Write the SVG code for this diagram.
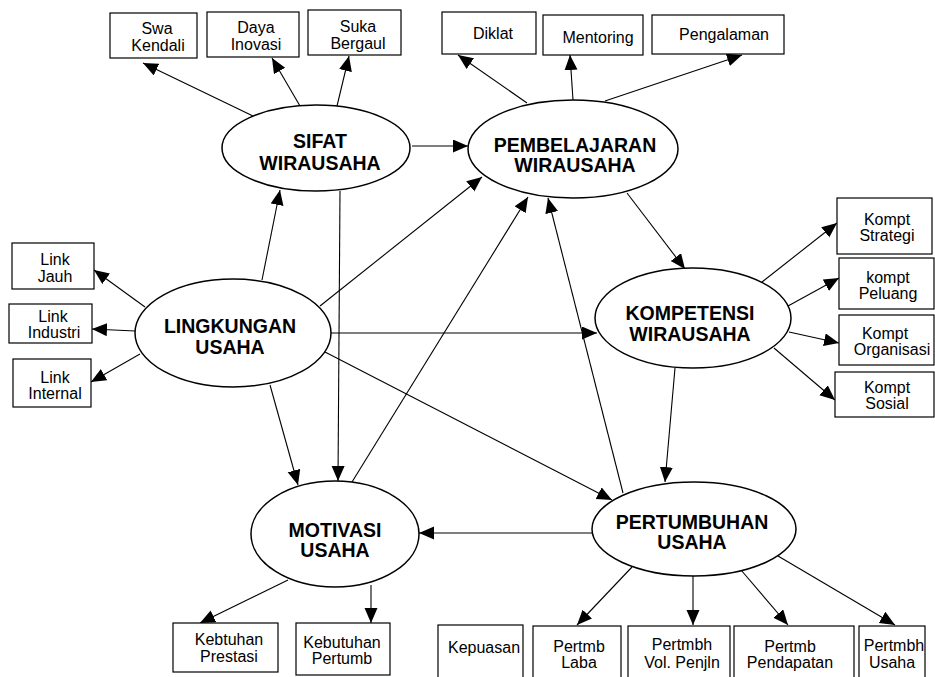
<svg xmlns="http://www.w3.org/2000/svg" width="935" height="677" viewBox="0 0 935 677">
  <defs>
    <marker id="arrow" markerUnits="userSpaceOnUse" markerWidth="16" markerHeight="14" refX="15" refY="6.5" orient="auto">
      <path d="M0,0 L15,6.5 L0,13 z" fill="#000"/>
    </marker>
    <style>
      .ell { fill: #fff; stroke: #000; stroke-width: 1.5; }
      .box { fill: #fff; stroke: #000; stroke-width: 1.2; }
      .big { font-family: "Liberation Sans", Arial, sans-serif; font-weight: bold; font-size: 19.5px; text-anchor: middle; fill: #000; }
      .sm { font-family: "Liberation Sans", Arial, sans-serif; font-size: 16px; text-anchor: middle; fill: #000; }
      .conn line { stroke: #000; stroke-width: 1.1; marker-end: url(#arrow); }
    </style>
  </defs>
  <rect width="935" height="677" fill="#fff"/>

  <!-- connectors -->
  <g id="connectors" class="conn">
    <!-- SIFAT WIRAUSAHA to its indicators -->
    <line x1="253" y1="116" x2="143" y2="63"/>
    <line x1="300" y1="106" x2="272" y2="58"/>
    <line x1="337" y1="106" x2="349" y2="56"/>
    <!-- PEMBELAJARAN WIRAUSAHA to its indicators -->
    <line x1="527" y1="103" x2="458" y2="55"/>
    <line x1="573" y1="100" x2="570" y2="55"/>
    <line x1="605" y1="101" x2="742" y2="55"/>
    <!-- LINGKUNGAN USAHA to its indicators -->
    <line x1="145" y1="307" x2="94" y2="270"/>
    <line x1="135" y1="331" x2="92" y2="329"/>
    <line x1="140" y1="354" x2="91" y2="382"/>
    <!-- KOMPETENSI WIRAUSAHA to its indicators -->
    <line x1="762" y1="282" x2="837" y2="223"/>
    <line x1="788" y1="306" x2="839" y2="278"/>
    <line x1="789" y1="332" x2="839" y2="343"/>
    <line x1="774" y1="348" x2="835" y2="400"/>
    <!-- MOTIVASI USAHA to its indicators -->
    <line x1="288" y1="580" x2="200" y2="623"/>
    <line x1="371" y1="585" x2="371" y2="623"/>
    <!-- PERTUMBUHAN USAHA to its indicators -->
    <line x1="632" y1="567" x2="577" y2="625"/>
    <line x1="693" y1="576" x2="693" y2="625"/>
    <line x1="741" y1="570" x2="788" y2="625"/>
    <line x1="778" y1="556" x2="895" y2="625"/>
    <!-- structural paths -->
    <line x1="412" y1="146" x2="468" y2="146"/>
    <line x1="262" y1="280" x2="280" y2="190"/>
    <line x1="340" y1="191" x2="338" y2="481"/>
    <line x1="320" y1="306" x2="482" y2="177"/>
    <line x1="331" y1="333" x2="597" y2="333"/>
    <line x1="325" y1="352" x2="612" y2="500"/>
    <line x1="270" y1="385" x2="298" y2="485"/>
    <line x1="352" y1="482" x2="528" y2="197"/>
    <line x1="623" y1="493" x2="548" y2="198"/>
    <line x1="627" y1="193" x2="685" y2="269"/>
    <line x1="675" y1="368" x2="665" y2="482"/>
    <line x1="593" y1="533" x2="419" y2="533"/>
  </g>

  <!-- latent constructs -->
  <g id="sifat-wirausaha">
    <ellipse class="ell" cx="316" cy="148" rx="94" ry="43"/>
    <text class="big" x="320" y="148">SIFAT</text>
    <text class="big" x="320" y="170">WIRAUSAHA</text>
  </g>
  <g id="pembelajaran-wirausaha">
    <ellipse class="ell" cx="573" cy="149" rx="105" ry="49"/>
    <text class="big" x="575" y="152">PEMBELAJARAN</text>
    <text class="big" x="575" y="172">WIRAUSAHA</text>
  </g>
  <g id="lingkungan-usaha">
    <ellipse class="ell" cx="233" cy="333" rx="98" ry="54"/>
    <text class="big" x="230" y="333">LINGKUNGAN</text>
    <text class="big" x="230" y="354">USAHA</text>
  </g>
  <g id="kompetensi-wirausaha">
    <ellipse class="ell" cx="693" cy="318" rx="98" ry="50"/>
    <text class="big" x="690" y="320">KOMPETENSI</text>
    <text class="big" x="690" y="341">WIRAUSAHA</text>
  </g>
  <g id="motivasi-usaha">
    <ellipse class="ell" cx="335" cy="534" rx="84" ry="53"/>
    <text class="big" x="335" y="537">MOTIVASI</text>
    <text class="big" x="335" y="557">USAHA</text>
  </g>
  <g id="pertumbuhan-usaha">
    <ellipse class="ell" cx="694" cy="529" rx="102" ry="47"/>
    <text class="big" x="692" y="529">PERTUMBUHAN</text>
    <text class="big" x="692" y="549">USAHA</text>
  </g>

  <!-- indicators: SIFAT WIRAUSAHA -->
  <g id="swa-kendali">
    <rect class="box" x="110" y="13" width="87" height="45"/>
    <text class="sm" x="157" y="34">Swa</text>
    <text class="sm" x="158" y="51">Kendali</text>
  </g>
  <g id="daya-inovasi">
    <rect class="box" x="207" y="12" width="92" height="45"/>
    <text class="sm" x="256" y="33">Daya</text>
    <text class="sm" x="256" y="50">Inovasi</text>
  </g>
  <g id="suka-bergaul">
    <rect class="box" x="308" y="10" width="93" height="45"/>
    <text class="sm" x="358" y="32">Suka</text>
    <text class="sm" x="358" y="49">Bergaul</text>
  </g>

  <!-- indicators: PEMBELAJARAN WIRAUSAHA -->
  <g id="diklat">
    <rect class="box" x="442" y="12" width="94" height="42"/>
    <text class="sm" x="493" y="39">Diklat</text>
  </g>
  <g id="mentoring">
    <rect class="box" x="543" y="15" width="100" height="40"/>
    <text class="sm" x="598" y="43">Mentoring</text>
  </g>
  <g id="pengalaman">
    <rect class="box" x="652" y="15" width="132" height="39"/>
    <text class="sm" x="724" y="40">Pengalaman</text>
  </g>

  <!-- indicators: LINGKUNGAN USAHA -->
  <g id="link-jauh">
    <rect class="box" x="12" y="243" width="82" height="46"/>
    <text class="sm" x="55" y="265">Link</text>
    <text class="sm" x="55" y="282">Jauh</text>
  </g>
  <g id="link-industri">
    <rect class="box" x="9" y="304" width="83" height="39"/>
    <text class="sm" x="53" y="322">Link</text>
    <text class="sm" x="54" y="338">Industri</text>
  </g>
  <g id="link-internal">
    <rect class="box" x="13" y="359" width="78" height="48"/>
    <text class="sm" x="55" y="383">Link</text>
    <text class="sm" x="55" y="399">Internal</text>
  </g>

  <!-- indicators: KOMPETENSI WIRAUSAHA -->
  <g id="kompt-strategi">
    <rect class="box" x="837" y="198" width="95" height="56"/>
    <text class="sm" x="887" y="225">Kompt</text>
    <text class="sm" x="887" y="241">Strategi</text>
  </g>
  <g id="kompt-peluang">
    <rect class="box" x="839" y="258" width="95" height="51"/>
    <text class="sm" x="888" y="283">kompt</text>
    <text class="sm" x="888" y="299">Peluang</text>
  </g>
  <g id="kompt-organisasi">
    <rect class="box" x="839" y="315" width="95" height="50"/>
    <text class="sm" x="885" y="339">Kompt</text>
    <text class="sm" x="892" y="355">Organisasi</text>
  </g>
  <g id="kompt-sosial">
    <rect class="box" x="835" y="372" width="99" height="45"/>
    <text class="sm" x="887" y="393">Kompt</text>
    <text class="sm" x="887" y="409">Sosial</text>
  </g>

  <!-- indicators: MOTIVASI USAHA -->
  <g id="kebtuhan-prestasi">
    <rect class="box" x="173" y="623" width="105" height="49"/>
    <text class="sm" x="229" y="645">Kebtuhan</text>
    <text class="sm" x="229" y="662">Prestasi</text>
  </g>
  <g id="kebutuhan-pertumb">
    <rect class="box" x="296" y="623" width="94" height="52"/>
    <text class="sm" x="342" y="648">Kebutuhan</text>
    <text class="sm" x="342" y="664">Pertumb</text>
  </g>

  <!-- indicators: PERTUMBUHAN USAHA -->
  <g id="kepuasan">
    <rect class="box" x="438" y="625" width="85" height="60"/>
    <text class="sm" x="484" y="653">Kepuasan</text>
  </g>
  <g id="pertmb-laba">
    <rect class="box" x="533" y="626" width="88" height="60"/>
    <text class="sm" x="579" y="652">Pertmb</text>
    <text class="sm" x="579" y="668">Laba</text>
  </g>
  <g id="pertmbh-vol-penjln">
    <rect class="box" x="628" y="626" width="102" height="60"/>
    <text class="sm" x="682" y="650">Pertmbh</text>
    <text class="sm" x="682" y="668">Vol. Penjln</text>
  </g>
  <g id="pertmb-pendapatan">
    <rect class="box" x="734" y="626" width="120" height="60"/>
    <text class="sm" x="790" y="652">Pertmb</text>
    <text class="sm" x="790" y="668">Pendapatan</text>
  </g>
  <g id="pertmbh-usaha">
    <rect class="box" x="859" y="626" width="66" height="60"/>
    <text class="sm" x="894" y="651">Pertmbh</text>
    <text class="sm" x="892" y="668">Usaha</text>
  </g>
</svg>
